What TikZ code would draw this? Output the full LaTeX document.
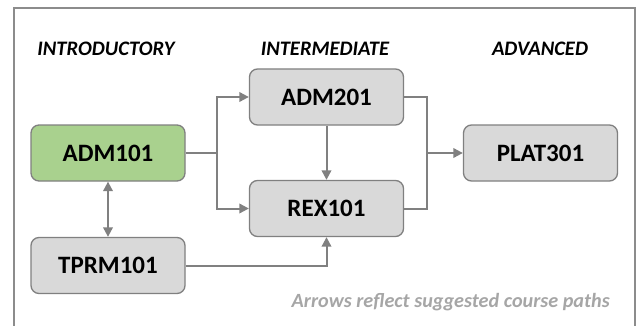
\documentclass[tikz,border=0pt]{standalone}
\usepackage{fontspec}
\setmainfont{Carlito}
\usetikzlibrary{arrows.meta,calc}
\definecolor{boxgray}{HTML}{D9D9D9}
\definecolor{boxgreen}{HTML}{A9D18E}
\definecolor{edgegray}{HTML}{808080}
\definecolor{framegray}{HTML}{8C8C8C}
\definecolor{notegray}{HTML}{A6A6A6}
\tikzset{
  course/.style={draw=edgegray, line width=1.3pt, rounded corners=8pt, fill=boxgray,
    minimum width=154pt, minimum height=56pt, inner sep=0pt,
    font=\fontsize{25}{29}\selectfont\bfseries, text=black},
  greencourse/.style={course, fill=boxgreen},
  header/.style={font=\fontsize{20.6}{24}\selectfont\bfseries\itshape, text=black, inner sep=0pt},
  link/.style={draw=edgegray, line width=2pt},
  tip/.tip={Triangle[length=9.5pt,width=9.5pt]},
  linkarrow/.style={link, -tip},
}
\begin{document}
\begin{tikzpicture}[x=1pt,y=-1pt]
\useasboundingbox (0,0) rectangle (639,326);
\draw[framegray, line width=1.3pt] (14,326) -- (14,8) -- (635,8) -- (635,326);
\node[header] (h1) at (106,49) {INTRODUCTORY};
\node[header] (h2) at (325,49) {INTERMEDIATE};
\node[header] (h3) at (540,49) {ADVANCED};
\node[greencourse] (adm101) at (108,153) {ADM101};
\node[course] (tprm101) at (108,265.5) {TPRM101};
\node[course] (adm201) at (326.5,97) {ADM201};
\node[course] (rex101) at (326.5,208.5) {REX101};
\node[course] (plat301) at (540.5,153) {PLAT301};
\node[font=\fontsize{20.2}{24}\selectfont\bfseries\itshape, text=notegray, anchor=east, inner sep=0pt] (note) at (610,302) {Arrows reflect suggested course paths};
\coordinate (j1) at (217,153);
\coordinate (j2) at (427,153);
\draw[link] (adm101.east) -- (j1);
\draw[linkarrow] (j1) |- (adm201.west);
\draw[linkarrow] (j1) |- (rex101.west);
\draw[linkarrow] (adm201.south) -- (rex101.north);
\draw[link, tip-tip] (adm101.south) -- (tprm101.north);
\draw[linkarrow] (tprm101.east) -| (rex101.south);
\draw[link] (adm201.east) -| (j2) |- (rex101.east);
\draw[linkarrow] (j2) -- (plat301.west);
\end{tikzpicture}
\end{document}
